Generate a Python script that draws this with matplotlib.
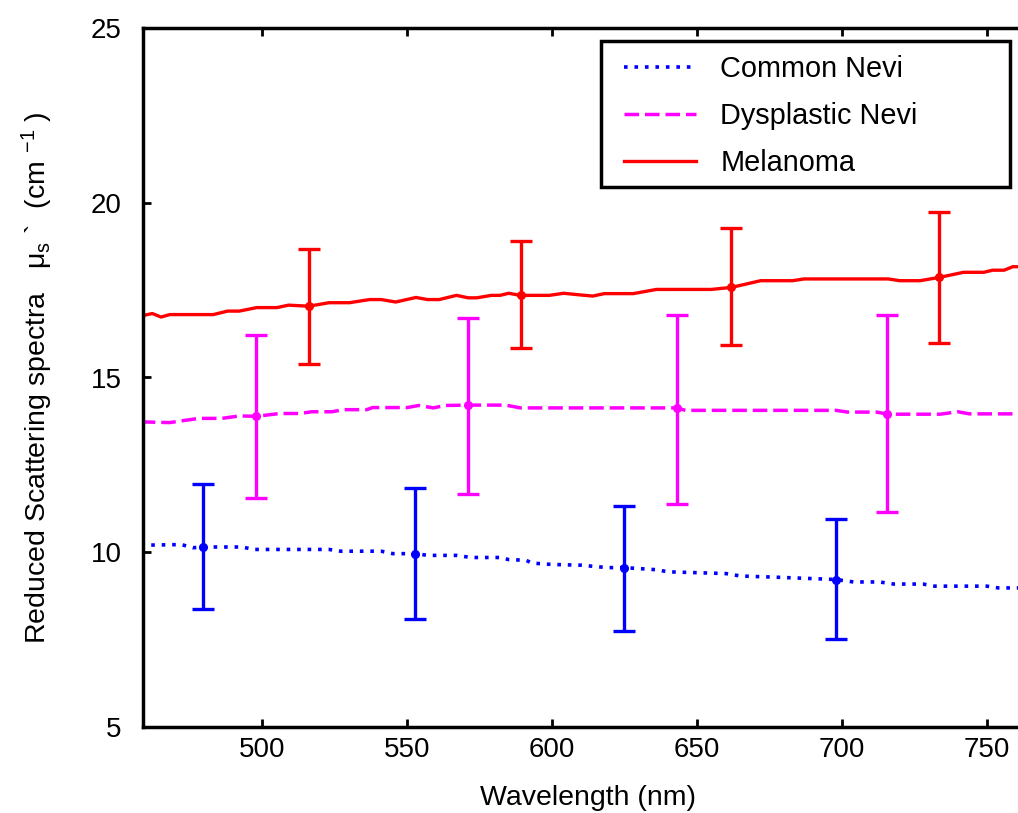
import matplotlib
matplotlib.use("Agg")
import matplotlib.pyplot as plt
from matplotlib.patches import Rectangle

plt.rcParams['font.family'] = ['Liberation Sans', 'DejaVu Sans']
plt.rcParams['mathtext.fontset'] = 'custom'
plt.rcParams['mathtext.rm'] = 'Liberation Sans'
plt.rcParams['mathtext.it'] = 'Liberation Sans'

# ---- data ----
wl_mel = [458, 462, 465, 468, 483, 488, 492, 498, 505, 509, 516, 523, 530, 537, 541,
          546, 553, 557, 561, 567, 571, 574, 579, 582, 585, 589, 599, 604, 610, 614,
          618, 628, 636, 655, 662, 672, 683, 687, 716, 720, 727, 734, 742, 749, 752,
          756, 759, 765]
mel = [16.76, 16.83, 16.73, 16.80, 16.80, 16.90, 16.90, 17.00, 17.00, 17.07, 17.04,
       17.14, 17.14, 17.23, 17.23, 17.16, 17.29, 17.23, 17.23, 17.35, 17.28, 17.28,
       17.35, 17.35, 17.41, 17.35, 17.35, 17.41, 17.36, 17.33, 17.40, 17.40, 17.52,
       17.52, 17.58, 17.77, 17.77, 17.82, 17.82, 17.77, 17.77, 17.87, 18.01, 18.01,
       18.07, 18.07, 18.17, 18.17]

wl_dys = [458, 468, 478, 486, 492, 498, 506, 513, 517, 524, 528, 536, 538, 550, 554,
          559, 563, 571, 584, 589, 610, 643, 646, 698, 702, 712, 716, 734, 740, 744, 765]
dys = [13.73, 13.71, 13.83, 13.83, 13.90, 13.89, 13.97, 13.97, 14.02, 14.02, 14.08,
       14.08, 14.14, 14.14, 14.20, 14.13, 14.20, 14.21, 14.21, 14.13, 14.13, 14.13,
       14.06, 14.06, 14.01, 14.01, 13.95, 13.95, 14.02, 13.96, 13.96]

wl_com = [458, 472, 476, 480, 493, 497, 523, 527, 541, 545, 553, 557, 567, 572, 582,
          585, 591, 593, 600, 610, 619, 625, 636, 640, 660, 665, 676, 698, 704, 713,
          718, 728, 732, 750, 754, 765]
com = [10.20, 10.22, 10.13, 10.15, 10.15, 10.08, 10.08, 10.03, 10.03, 9.96, 9.96,
       9.91, 9.91, 9.85, 9.85, 9.79, 9.77, 9.69, 9.65, 9.63, 9.56, 9.56, 9.50, 9.44,
       9.39, 9.32, 9.29, 9.22, 9.15, 9.15, 9.09, 9.09, 9.03, 9.03, 8.98, 8.98]

# error bars
eb_com_x = [479.5, 552.6, 624.9, 698.0]
eb_com_y = [10.15, 9.96, 9.56, 9.22]
eb_com_hi = [11.95, 11.84, 11.32, 10.96]
eb_com_lo = [8.39, 8.08, 7.75, 7.52]

eb_dys_x = [497.7, 571.0, 643.2, 715.5]
eb_dys_y = [13.89, 14.21, 14.13, 13.95]
eb_dys_hi = [16.23, 16.69, 16.80, 16.80]
eb_dys_lo = [11.55, 11.67, 11.37, 11.14]

eb_mel_x = [516.1, 589.2, 661.6, 733.5]
eb_mel_y = [17.04, 17.35, 17.58, 17.87]
eb_mel_hi = [18.67, 18.91, 19.27, 19.74]
eb_mel_lo = [15.40, 15.83, 15.94, 15.99]

labels = ["Common Nevi", "Dysplastic Nevi", "Melanoma"]
xticks = [500, 550, 600, 650, 700, 750]
yticks = [5, 10, 15, 20, 25]

BLUE, MAG, RED = "#0000ff", "#ff00ff", "#ff0000"
W, H = 1018, 813

fig = plt.figure(figsize=(W / 100, H / 100), dpi=100)
ax = fig.add_axes([142.5 / W, 86 / H, 890 / W, 699 / H])

l1, = ax.plot(wl_com, com, color=BLUE, ls=(0, (1, 1.9)), lw=2.6)
l2, = ax.plot(wl_dys, dys, color=MAG, ls=(0, (4.2, 1.7)), lw=2.5)
l3, = ax.plot(wl_mel, mel, color=RED, ls='-', lw=2.4)

for xs, ys, hi, lo, c in [(eb_com_x, eb_com_y, eb_com_hi, eb_com_lo, BLUE),
                          (eb_dys_x, eb_dys_y, eb_dys_hi, eb_dys_lo, MAG),
                          (eb_mel_x, eb_mel_y, eb_mel_hi, eb_mel_lo, RED)]:
    err = [[y - l for y, l in zip(ys, lo)], [h - y for y, h in zip(ys, hi)]]
    ax.errorbar(xs, ys, yerr=err, fmt='o', color=c, ms=5.5, elinewidth=2.4,
                capsize=8, capthick=2.4)

ax.set_xlim(458.6, 765.8)
ax.set_ylim(5, 25)
ax.set_xticks(xticks)
ax.set_yticks(yticks)
ax.tick_params(direction='in', length=6, width=2, labelsize=20, top=True, right=True)
ax.tick_params(axis='y', pad=15)
ax.tick_params(axis='x', pad=7)
for s in ax.spines.values():
    s.set_linewidth(2.5)

ax.set_xlabel("Wavelength (nm)", fontsize=20.5, labelpad=16)
ax.set_ylabel(r"Reduced Scattering spectra   $\mu_{\mathregular{s}}$ `  (cm $^{-1}$ )",
              fontsize=20.5, labelpad=26)

# legend box drawn by hand, entries placed inside
fig.patches.append(Rectangle((601 / W, 1 - 187 / H), 409 / W, 146 / H,
                             transform=fig.transFigure, facecolor='white',
                             edgecolor='black', linewidth=2.5, zorder=5))
leg = fig.legend([l1, l2, l3], labels, loc='upper left',
                 bbox_to_anchor=(624 / W, 1 - 55 / H), frameon=False,
                 fontsize=20.8, handlelength=2.5, handletextpad=0.83,
                 borderpad=0, labelspacing=0.66, borderaxespad=0)
leg.set_zorder(6)

fig.savefig("out.png", dpi=100)
